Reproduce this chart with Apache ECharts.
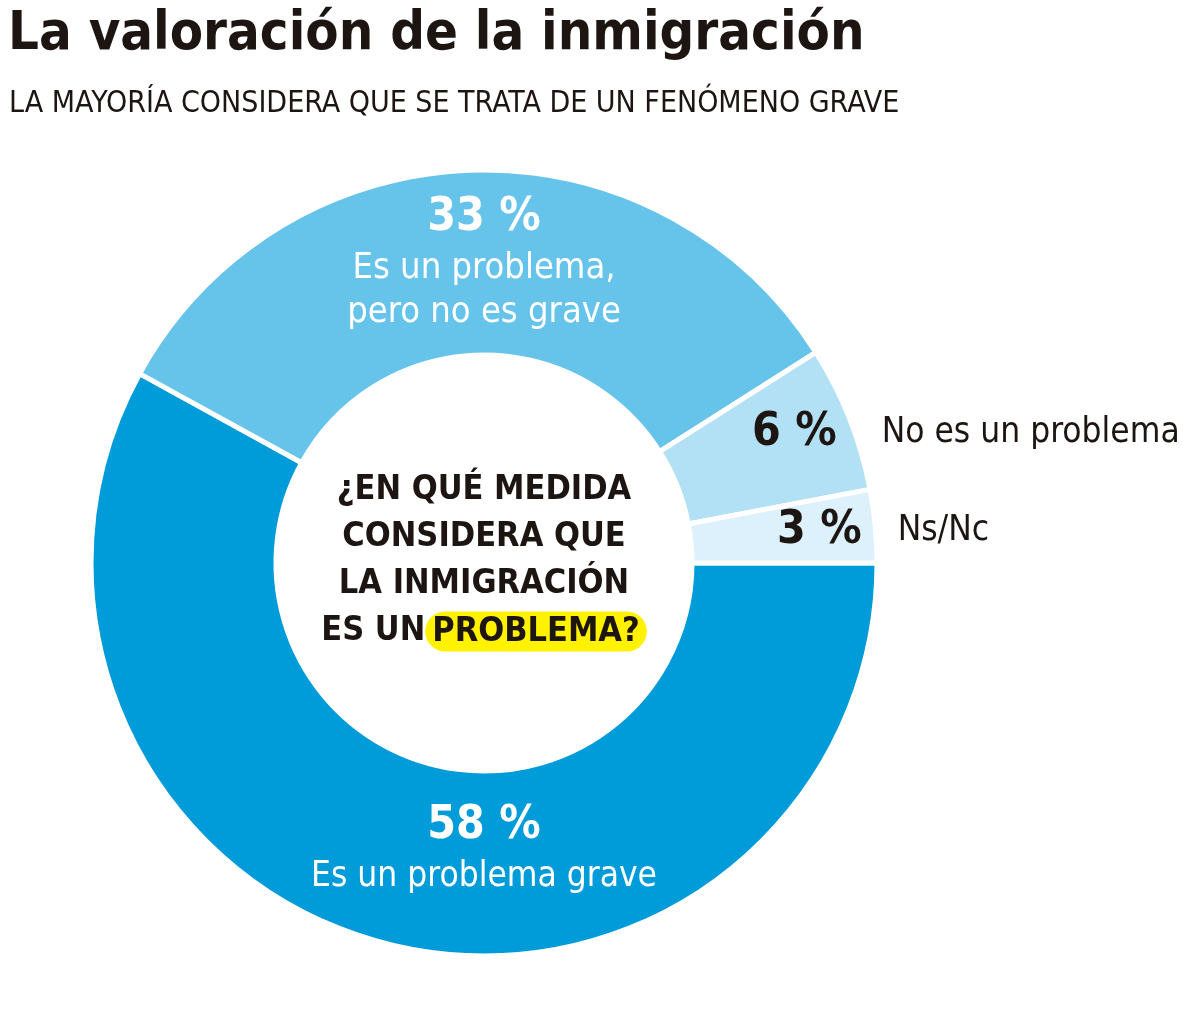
<!DOCTYPE html>
<html>
<head>
<meta charset="utf-8">
<script src="https://cdn.jsdelivr.net/npm/echarts@6/dist/echarts.min.js"></script>
<style>
html,body{margin:0;padding:0;background:#fff;}
#c{width:1200px;height:1019px;}
</style>
</head>
<body>
<div id="c"></div>
<script>
const categories = ["Es un problema grave", "Es un problema,\npero no es grave", "No es un problema", "Ns/Nc"];
const values = [58, 33, 6, 3];
const colors = ["#009bd9", "#66c3e9", "#b2e0f4", "#dcf1fb"];
const titleText = "La valoración de la inmigración";
const subtitleText = "LA MAYORÍA CONSIDERA QUE SE TRATA DE UN FENÓMENO GRAVE";

const FONT = "'DejaVu Sans Condensed', 'Liberation Sans Narrow', sans-serif";
const DARK = "#1c1512";
const chart = echarts.init(document.getElementById('c'));

const labelPlace = [
  {x: 484, y: 848, align: 'center'},
  {x: 484, y: 262, align: 'center'},
  {x: 752, y: 433, align: 'left'},
  {x: 777, y: 531, align: 'left'}
];

chart.setOption({
  animation: false,
  title: [
    {text: titleText, left: 3, top: 3,
     textStyle: {fontFamily: FONT, fontSize: 54, fontWeight: 'bold', color: DARK}},
    {text: subtitleText, left: 4, top: 84,
     textStyle: {fontFamily: FONT, fontSize: 30, fontWeight: 'normal', color: DARK}}
  ],
  series: [{
    type: 'pie',
    center: [484, 563],
    radius: [208, 393],
    startAngle: 0,
    clockwise: true,
    silent: true,
    itemStyle: {borderColor: '#fff', borderWidth: 5},
    labelLine: {show: false},
    data: values.map((v, i) => ({
      value: v, name: categories[i],
      itemStyle: {color: colors[i]},
      label: i < 2 ? {
        show: true, position: 'inside',
        formatter: '{v|{c} %}\n{t|{b}}',
        rich: {
          v: {fontFamily: FONT, fontSize: 46, fontWeight: 'bold', color: '#fff', lineHeight: 58, align: 'center'},
          t: {fontFamily: FONT, fontSize: i === 0 ? 35 : 36, color: '#fff', lineHeight: 44, align: 'center'}
        }
      } : {
        show: true, position: 'inside',
        formatter: '{v|{c} %}{t|{b}}',
        rich: {
          v: {fontFamily: FONT, fontSize: 46, fontWeight: 'bold', color: DARK},
          t: {fontFamily: FONT, fontSize: 35, color: DARK, padding: [0, 0, 0, i === 2 ? 45 : 36]}
        }
      }
    })),
    labelLayout: function (p) {
      const lp = labelPlace[p.dataIndex];
      return {x: lp.x, y: lp.y, align: lp.align, verticalAlign: 'middle'};
    }
  }],
  graphic: [{
    type: 'text',
    x: 484, y: 561,
    z: 100,
    style: {
      x: 0, y: 0,
      text: "¿EN QUÉ MEDIDA\nCONSIDERA QUE\nLA INMIGRACIÓN\nES UN{h|PROBLEMA?}",
      align: 'center', verticalAlign: 'middle',
      font: "bold 34px " + FONT,
      fontFamily: FONT, fontSize: 34, fontWeight: 'bold', fill: DARK, lineHeight: 47,
      rich: {h: {fontFamily: FONT, fontSize: 34, fontWeight: 'bold', fill: DARK,
                 backgroundColor: '#fff200', borderRadius: 20, padding: [4, 7, 2, 7], lineHeight: 47}}
    }
  }]
});
</script>
</body>
</html>
